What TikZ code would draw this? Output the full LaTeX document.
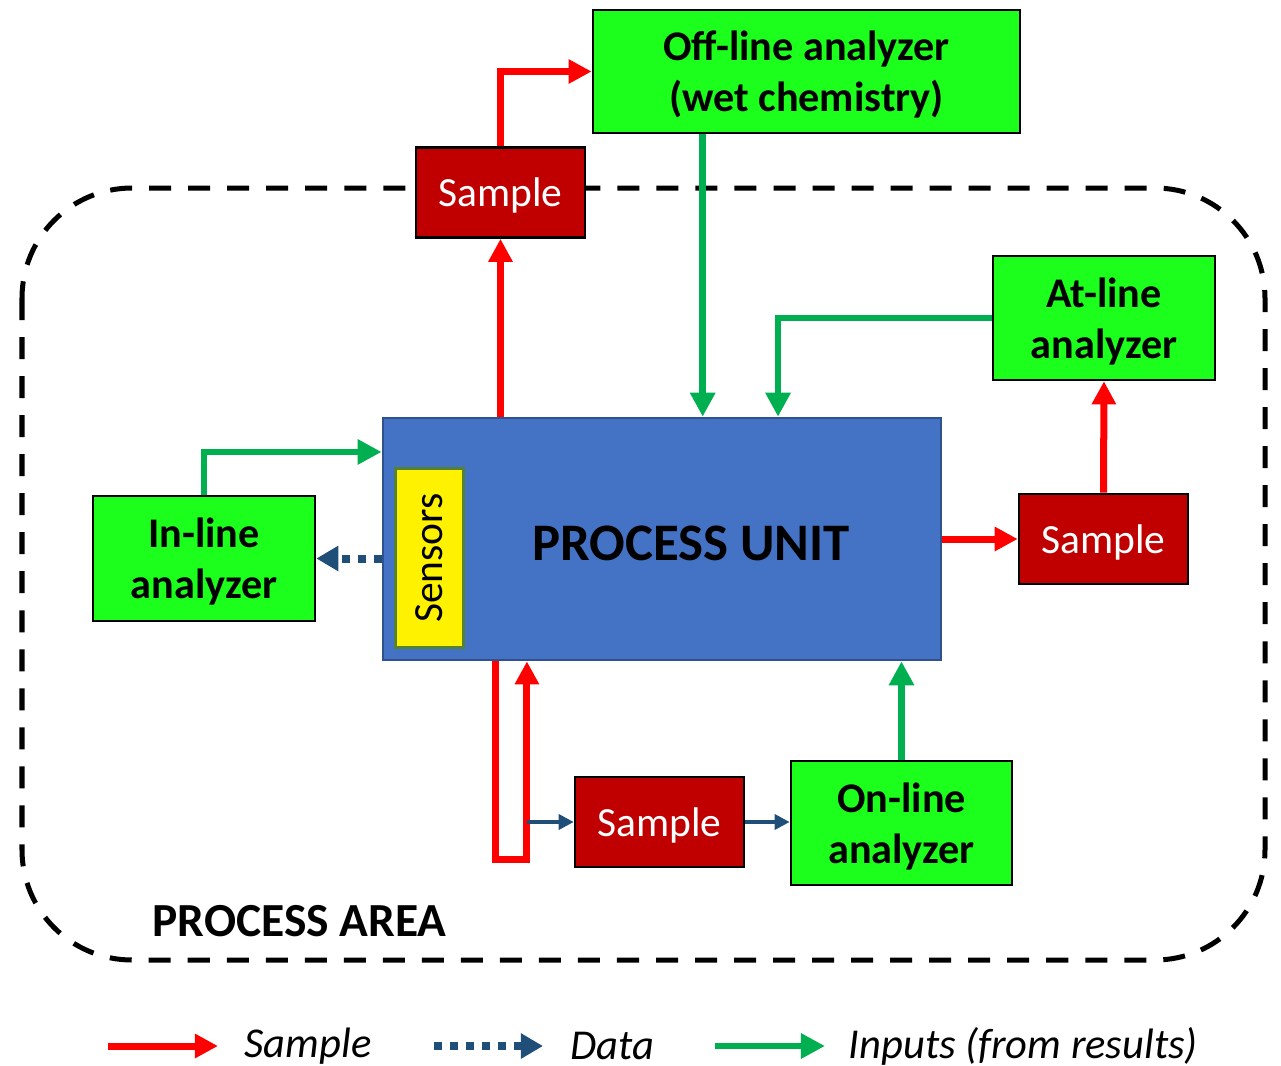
\documentclass[tikz,border=0pt]{standalone}
\usepackage{fontspec}
\setmainfont{Carlito}
\usetikzlibrary{arrows.meta}
\definecolor{boxgreen}{RGB}{28,255,28}
\definecolor{samplered}{RGB}{192,0,0}
\definecolor{unitblue}{RGB}{68,114,196}
\definecolor{unitedge}{RGB}{47,82,143}
\definecolor{sensedge}{RGB}{84,130,53}
\definecolor{arrowred}{RGB}{255,0,0}
\definecolor{arrowgreen}{RGB}{0,176,80}
\definecolor{databl}{RGB}{31,78,121}

\begin{document}
\begin{tikzpicture}[x=0.01cm,y=-0.01cm,
		analyzer/.style={draw=black,line width=0.025cm,fill=boxgreen,align=center,inner sep=0pt,
			font=\fontsize{12}{14.5}\selectfont\bfseries},
		samplebox/.style={draw=black,line width=0.025cm,fill=samplered,text=white,inner sep=0pt,
			text height=0.36cm,text depth=0.08cm,
			minimum width=1.69cm,minimum height=0.9cm,font=\fontsize{11.8}{14}\selectfont},
		redarrow/.style={arrowred,line width=0.07cm,-{Triangle[length=0.23cm,width=0.23cm]}},
		greenarrow/.style={arrowgreen,line width=0.065cm,-{Triangle[length=0.24cm,width=0.24cm]}},
		dataarrow/.style={databl,line width=0.08cm,dash pattern=on 0.08cm off 0.08cm,
			-{Triangle[length=0.22cm,width=0.24cm]}},
		thinarrow/.style={databl,line width=0.035cm,-{Triangle[length=0.15cm,width=0.15cm]}},
		legtext/.style={anchor=west,inner sep=0pt,font=\fontsize{12.1}{14}\selectfont\itshape}]
			%%%%% START %%%%%
			
			\useasboundingbox (0,0) rectangle (1281,1066);
			
			% process area
			\draw[line width=0.05cm,dash pattern=on 0.22cm off 0.17cm,rounded corners=1.1cm] (22,188) rectangle (1265,960);
			\node[anchor=west,inner sep=0pt,font=\fontsize{13.5}{16}\selectfont\bfseries] (areatitle) at (152,921) {PROCESS AREA};
			
			% boxes
			\node[draw=unitedge,line width=0.025cm,fill=unitblue,minimum width=5.58cm,minimum height=2.42cm] (pu) at (662,539) {};
			\node[font=\fontsize{15}{18}\selectfont\bfseries,text=black] (putext) at (691,543) {PROCESS UNIT};
			\node[draw=sensedge,line width=0.03cm,fill=yellow,rotate=90,inner sep=0pt,minimum width=1.78cm,minimum height=0.67cm,
				font=\fontsize{11.8}{14}\selectfont] (sensors) at (429.5,558) {Sensors};
			
			\node[analyzer,minimum width=4.27cm,minimum height=1.23cm] (offline) at (806.5,71.5) {\rule{0pt}{0.36cm}Off-line analyzer\\(wet chemistry)};
			\node[analyzer,minimum width=2.22cm,minimum height=1.24cm] (atline) at (1104,318) {\rule{0pt}{0.36cm}At-line\\analyzer};
			\node[analyzer,minimum width=2.22cm,minimum height=1.25cm] (inline) at (204,558.5) {\rule{0pt}{0.36cm}In-line\\analyzer};
			\node[analyzer,minimum width=2.21cm,minimum height=1.24cm] (online) at (901.5,823) {\rule{0pt}{0.36cm}On-line\\analyzer};
			
			\node[samplebox] (sampletop) at (500.5,192.5) {Sample};
			\node[samplebox] (sampleright) at (1103.5,539) {Sample};
			\node[samplebox] (samplebot) at (659.5,822) {Sample};
			
			% sample lines
			\draw[redarrow] (sampletop.south |- pu.north) -- (sampletop.south);
			\draw[redarrow] (sampletop.north) |- (offline.west);
			\draw[redarrow] (pu.east) -- (sampleright.west);
			\draw[redarrow] (sampleright.north) -- (atline.south);
			\coordinate (loopl) at ([xshift=-1.66cm]pu.south);
			\coordinate (loopr) at ([xshift=-1.35cm]pu.south);
			\draw[redarrow] (loopl) -- ++(0,198) -| (loopr);
			
			% results back to the unit
			\draw[greenarrow] ([xshift=1.11cm]offline.south west) -- ([xshift=1.11cm]offline.south west |- pu.north);
			\draw[greenarrow] (atline.west) -| ([xshift=1.16cm]pu.north);
			\draw[greenarrow] (inline.north) |- ([yshift=0.87cm]pu.west);
			\draw[greenarrow] (online.north) -- (online.north |- pu.south);
			
			% data
			\draw[dataarrow] (pu.west |- inline.east) -- (inline.east);
			\draw[thinarrow] (loopr |- samplebot.west) -- (samplebot.west);
			\draw[thinarrow] (samplebot.east) -- (online.west |- samplebot.east);
			
			% legend
			\node[legtext] (legsample) at (244,1046) {Sample};
			\node[legtext] (legdata) at (570,1046) {Data};
			\node[legtext] (leginputs) at (848,1046) {Inputs (from results)};
			\draw[redarrow] ([xshift=-1.36cm]legsample.west) -- ([xshift=-0.26cm]legsample.west);
			\draw[dataarrow] ([xshift=-1.36cm]legdata.west) -- ([xshift=-0.27cm]legdata.west);
			\draw[greenarrow] ([xshift=-1.33cm]leginputs.west) -- ([xshift=-0.23cm]leginputs.west);
			
			%%%%% END %%%%%
\end{tikzpicture}
\end{document}
